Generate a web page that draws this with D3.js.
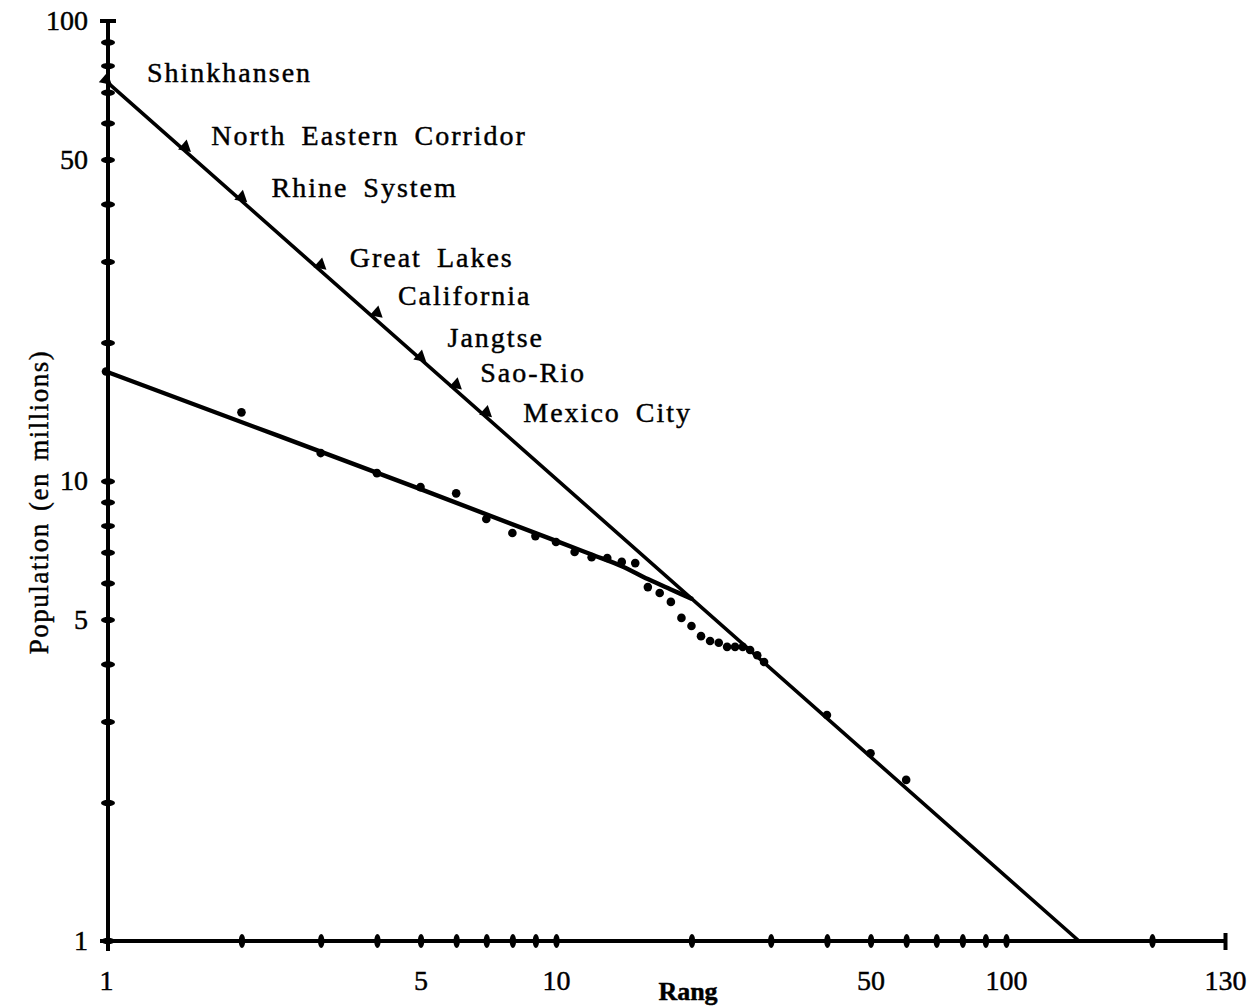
<!DOCTYPE html>
<html>
<head>
<meta charset="utf-8">
<script src="https://cdn.jsdelivr.net/npm/d3@7"></script>
<style>
  html, body { margin: 0; padding: 0; background: #fff; }
  svg { display: block; }
  text { font-family: "Liberation Serif", "Times New Roman", serif; fill: #000; stroke: #000; stroke-width: 0.45px; }
</style>
</head>
<body>
<svg id="chart" width="1250" height="1006"></svg>
<script>
// Urban corridors ranked by population (millions)
const corridorNames = ["Shinkhansen", "North Eastern Corridor", "Rhine System", "Great Lakes",
                       "California", "Jangtse", "Sao-Rio", "Mexico City"];
const corridorRanks = [1, 1.5, 2, 3, 4, 5, 6, 7];
const corridorPop   = [74.5, 53.2, 41.4, 29.5, 23.2, 18.6, 16.2, 14.1];

// Individual cities ranked by population (millions)
const cityRanks = [1, 2, 3, 4, 5, 6, 7, 8, 9, 10, 11, 12, 13, 14, 15, 16, 17, 18, 19, 20,
                   21, 22, 23, 24, 25, 26, 27, 28, 29, 40, 50, 60];
const cityPop   = [17.3, 14.1, 11.5, 10.4, 9.7, 9.4, 8.27, 7.71, 7.59, 7.37, 7.01, 6.83, 6.80,
                   6.67, 6.63, 5.88, 5.71, 5.46, 5.04, 4.84, 4.60, 4.49, 4.45, 4.36, 4.36, 4.36,
                   4.29, 4.18, 4.04, 3.10, 2.56, 2.24];

// Fitted rank-size lines
const corridorFitRanks = [1, 110];
const corridorFitPop   = [74, 1];
const cityFitRanks = [1, 5, 10, 12, 14, 16, 18, 20];
const cityFitPop   = [17.3, 9.6, 7.41, 6.92, 6.53, 6.12, 5.81, 5.55];

// Axis ticks
const xTickValues = [1, 2, 3, 4, 5, 6, 7, 8, 9, 10, 20, 30, 40, 50, 60, 70, 80, 90, 100];
const xTailTicks  = [120, 130];
const xTickText   = {1: "1", 5: "5", 10: "10", 50: "50", 100: "100", 130: "130"};
const yTickValues = [1, 2, 3, 4, 5, 6, 7, 8, 9, 10, 20, 30, 40, 50, 60, 70, 80, 90, 100];
const yTickText   = {1: "1", 5: "5", 10: "10", 50: "50", 100: "100"};

// Label placement relative to each corridor marker [dx, dy]
const labelOffsets = [[41, 2], [26, -2], [30, 0], [29, 2], [21, -8], [27, -10], [24, -3], [37, 10]];

const svg = d3.select("#chart");

// Rank axis: logarithmic up to 100, then a short linear tail up to 130
const xLog  = d3.scaleLog().domain([1, 100]).range([106, 1006]);
const xTail = d3.scaleLinear().domain([100, 130]).range([1006, 1225]);
const x = v => (v <= 100 ? xLog(v) : xTail(v));
const y = d3.scaleLog().domain([1, 100]).range([941, 21]);

const axisColor = "#000";

// ---- Y axis ----
const yAxis = d3.axisLeft(y).tickValues(yTickValues).tickSize(0).tickPadding(20)
  .tickFormat(d => yTickText[d] || "");
const gy = svg.append("g").attr("transform", `translate(${x(1) + 2},0)`).call(yAxis);
gy.select(".domain").remove();
gy.selectAll(".tick text").attr("font-size", 28).attr("font-family", "Liberation Serif");
gy.selectAll(".tick").filter(d => d !== 100 && d !== 1)
  .append("ellipse").attr("rx", 7).attr("ry", 3.2).attr("fill", axisColor);
gy.append("line").attr("x1", 0).attr("x2", 0).attr("y1", y(100)).attr("y2", y(1) + 10)
  .attr("stroke", axisColor).attr("stroke-width", 4);
gy.append("line").attr("x1", -8).attr("x2", 8).attr("y1", y(100)).attr("y2", y(100))
  .attr("stroke", axisColor).attr("stroke-width", 4);

// ---- X axis ----
const xAxisMain = d3.axisBottom(xLog).tickValues(xTickValues).tickSize(0).tickPadding(29)
  .tickFormat(d => xTickText[d] || "");
const xAxisTail = d3.axisBottom(xTail).tickValues(xTailTicks).tickSize(0).tickPadding(29)
  .tickFormat(d => xTickText[d] || "");
const gx = svg.append("g").attr("transform", `translate(0,${y(1)})`);
const gxMain = gx.append("g").call(xAxisMain);
const gxTail = gx.append("g").call(xAxisTail);
gx.selectAll(".domain").remove();
gx.selectAll(".tick text").attr("font-size", 28).attr("font-family", "Liberation Serif");
gxMain.selectAll(".tick").filter(d => d !== 1)
  .append("ellipse").attr("rx", 3.2).attr("ry", 7).attr("fill", axisColor);
gxTail.selectAll(".tick").filter(d => d !== 130)
  .append("ellipse").attr("rx", 3.2).attr("ry", 7).attr("fill", axisColor);
gxTail.selectAll(".tick").filter(d => d === 130)
  .append("line").attr("y1", -8).attr("y2", 9).attr("stroke", axisColor).attr("stroke-width", 4);
gx.append("line").attr("x1", x(1) - 6).attr("x2", x(130)).attr("y1", 0).attr("y2", 0)
  .attr("stroke", axisColor).attr("stroke-width", 4);
gx.append("ellipse").attr("cx", x(1) + 2).attr("cy", 0).attr("rx", 7).attr("ry", 3.2).attr("fill", axisColor);

// Axis titles
svg.append("text").attr("x", 688).attr("y", 1000).attr("text-anchor", "middle")
  .attr("font-size", 26).attr("font-weight", "bold").text("Rang");
svg.append("text").attr("transform", "translate(48,502) rotate(-90)").attr("text-anchor", "middle")
  .attr("font-size", 27).attr("letter-spacing", 1.5).attr("word-spacing", 3)
  .text("Population (en millions)");

// ---- Fitted lines ----
const corridorFit = corridorFitRanks.map((r, i) => [r, corridorFitPop[i]]);
const cityFit = cityFitRanks.map((r, i) => [r, cityFitPop[i]]);

svg.append("path").datum(corridorFit)
  .attr("d", d3.line().x(d => x(d[0])).y(d => y(d[1])))
  .attr("fill", "none").attr("stroke", "#000").attr("stroke-width", 3.6)
  .attr("stroke-linecap", "round");

svg.append("path").datum(cityFit)
  .attr("d", d3.line().curve(d3.curveCatmullRom.alpha(0.5)).x(d => x(d[0])).y(d => y(d[1])))
  .attr("fill", "none").attr("stroke", "#000").attr("stroke-width", 4.4)
  .attr("stroke-linecap", "round");

// ---- City points ----
const cities = cityRanks.map((r, i) => ({rank: r, pop: cityPop[i]}));
svg.append("g").selectAll("circle").data(cities).join("circle")
  .attr("cx", d => x(d.rank)).attr("cy", d => y(d.pop)).attr("r", 4.3).attr("fill", "#000");

// ---- Corridor points and labels ----
const corridors = corridorNames.map((n, i) => ({name: n, rank: corridorRanks[i], pop: corridorPop[i]}));
const tri = d3.symbol().type(d3.symbolTriangle).size(75);
svg.append("g").selectAll("path").data(corridors).join("path")
  .attr("d", tri)
  .attr("transform", d => `translate(${x(d.rank)},${y(d.pop)}) rotate(131)`)
  .attr("fill", "#000");

svg.append("g").selectAll("text").data(corridors).join("text")
  .attr("x", (d, i) => x(d.rank) + labelOffsets[i][0])
  .attr("y", (d, i) => y(d.pop) + labelOffsets[i][1])
  .attr("font-size", 28).attr("letter-spacing", 2).attr("word-spacing", 6)
  .text(d => d.name);
</script>
</body>
</html>
